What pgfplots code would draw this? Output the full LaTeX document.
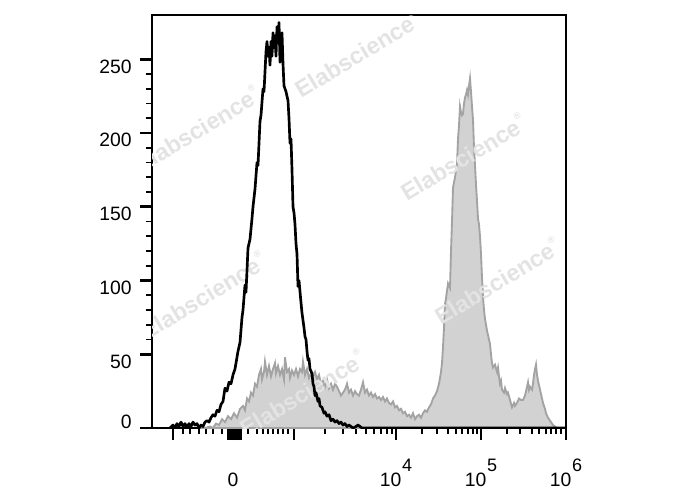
\documentclass[border=0pt]{standalone}
\usepackage{fontspec}
\setmainfont{Liberation Sans}
\usepackage{pgfplots}
\pgfplotsset{compat=1.18}

\definecolor{histfill}{HTML}{D2D2D2}
\definecolor{histedge}{HTML}{A3A3A3}
\definecolor{wmark}{HTML}{E3E3E3}

% x positions are display channels (biexponential scale), y is event count
\newcommand{\tenpow}[1]{10\hspace{0.5pt}\raisebox{0.76em}{\fontsize{13.5pt}{13.5pt}\selectfont #1}}
\newcommand{\wm}[2]{\node[rotate=31, text=wmark, font=\fontsize{17.5pt}{17.5pt}\selectfont\bfseries] at (axis cs:#1,#2) {Elabscience\raisebox{0.6em}{\fontsize{7pt}{7pt}\selectfont\textregistered}};}

\begin{document}
\begin{tikzpicture}
\path[use as bounding box] (0,0) rectangle (516pt,367.5pt);
\begin{axis}[
    at={(114pt,46.5pt)}, anchor=south west,
    scale only axis,
    width=310.5pt, height=309.75pt,
    xmin=152, xmax=566,
    ymin=0, ymax=280,
    axis line style={line width=0.8pt},
    tick align=outside,
    xtick pos=bottom, ytick pos=left,
    major tick length=9pt,
    minor tick length=4.5pt,
    every major tick/.append style={line width=2pt, black},
    every minor tick/.append style={line width=1.3pt, black},
    xtick={173,228,230.5,233,235.5,238,240.5,294,396,481,566},
    xticklabels={,,,0,,,,,\tenpow{4},\tenpow{5},\tenpow{6}},
    minor xtick={183,190,199,206,213,222,248,257,263,268,273,278,283,288,325,343,356,366,374,381,387,392,422,437,448,456,462,468,473,477,507,520,532,539,546,551,556,561},
    ytick={50,100,150,200,250},
    extra y ticks={0},
    extra y tick style={yticklabel style={anchor=base east}},
    minor y tick num=4,
    /pgf/number format/assume math mode=true,
    tick label style={font=\fontsize{14.5pt}{16pt}\selectfont},
    yticklabel style={anchor=north east, inner sep=0pt, xshift=-6pt},
    xticklabel style={anchor=base, inner sep=0pt, yshift=-34.5pt},
]
\addplot[fill=histfill, draw=histedge, line width=1.4pt] table {
200 0
205 0
210 1
213 0
216 3
219 2
222 6
225 4
228 8
231 6
234 10
237 7
240 13
243 15
245 12
247 20
249 18
251 24
253 22
255 30
257 28
259 36
261 40
262 33
264 38
265 45
267 36
269 42
271 35
273 40
275 44
276 37
278 42
280 36
282 40
284 33
285 48
287 38
289 40
290 34
292 39
294 36
296 40
298 35
300 40
302 38
303 45
305 36
307 40
309 34
311 37
313 35
315 38
317 33
319 36
321 30
323 32
325 28
327 33
329 27
331 30
333 26
335 30
337 28
339 25
341 22
343 24
345 26
347 30
349 24
351 26
353 22
355 25
357 23
359 22
361 26
363 31
365 24
367 26
369 22
371 24
373 21
375 23
377 20
379 21
381 19
383 21
385 18
387 20
389 17
391 16
393 18
395 14
397 15
399 12
401 13
403 10
405 11
407 8
409 9
411 7
413 10
415 6
417 8
419 9
421 7
423 10
425 12
427 11
429 14
431 16
433 20
435 22
437 25
439 30
441 38
442 44
443 55
444 68
445 84
446 88
447 93
448 98
450 95
451 120
452 140
453 163
455 170
457 179
458 196
459 205
460 218
461 214
462 212
463 213
464 220
465 224
466 226
467 229
468 226
469 232
470 237
471 228
472 218
473 209
474 190
475 178
476 165
477 154
478 142
479 138
480 130
481 118
482 102
483 89
484 80
485 74
487 66
488 63
489 60
490 57
491 50
492 44
493 41
495 43
497 38
498 41
499 35
500 30
501 32
502 26
504 24
505 27
507 23
508 24
510 19
512 14
514 17
515 15
517 17
519 20
521 19
523 19
525 22
526 25
528 31
529 26
530 28
532 26
533 30
534 36
535 40
536 43
537 36
538 32
540 26
541 23
543 17
545 13
546 10
548 7
550 5
552 3
553 2
555 1
557 0
} \closedcycle;

\wm{357}{254}
\wm{197}{203}
\wm{463}{184}
\wm{203}{90}
\wm{497}{100}
\wm{302}{24}

\addplot[black, line width=2pt, line join=round] table {
170 0
173 2
175 0
177 3
179 1
181 4
183 1
185 3
187 0
189 3
191 1
193 4
195 2
197 3
199 0
201 2
203 1
205 4
207 5
209 4
211 7
213 9
215 8
217 12
219 11
221 16
223 18
225 27
227 25
229 31
231 30
233 36
235 40
236 44
238 52
240 58
242 75
243 80
245 97
246 92
248 122
250 128
252 142
253 150
255 162
257 180
258 178
260 208
261 212
263 230
264 228
266 255
267 262
268 252
269 258
270 246
271 262
272 252
273 268
274 258
275 266
276 252
277 272
278 263
279 275
280 248
281 258
282 268
283 247
284 232
286 228
288 222
289 210
290 193
291 196
292 175
293 150
294 146
295 138
296 125
297 118
298 96
299 100
301 85
302 78
304 68
305 62
306 60
307 52
308 46
309 47
310 40
312 37
313 30
314 28
315 22
316 24
318 18
319 20
320 15
322 14
324 10
325 11
327 8
329 9
331 5
333 6
335 4
337 5
339 3
341 4
343 2
345 3
347 1
349 2
351 1
353 0
356 1
358 2
360 1
362 0
566 0
};
\end{axis}
\end{tikzpicture}
\end{document}
